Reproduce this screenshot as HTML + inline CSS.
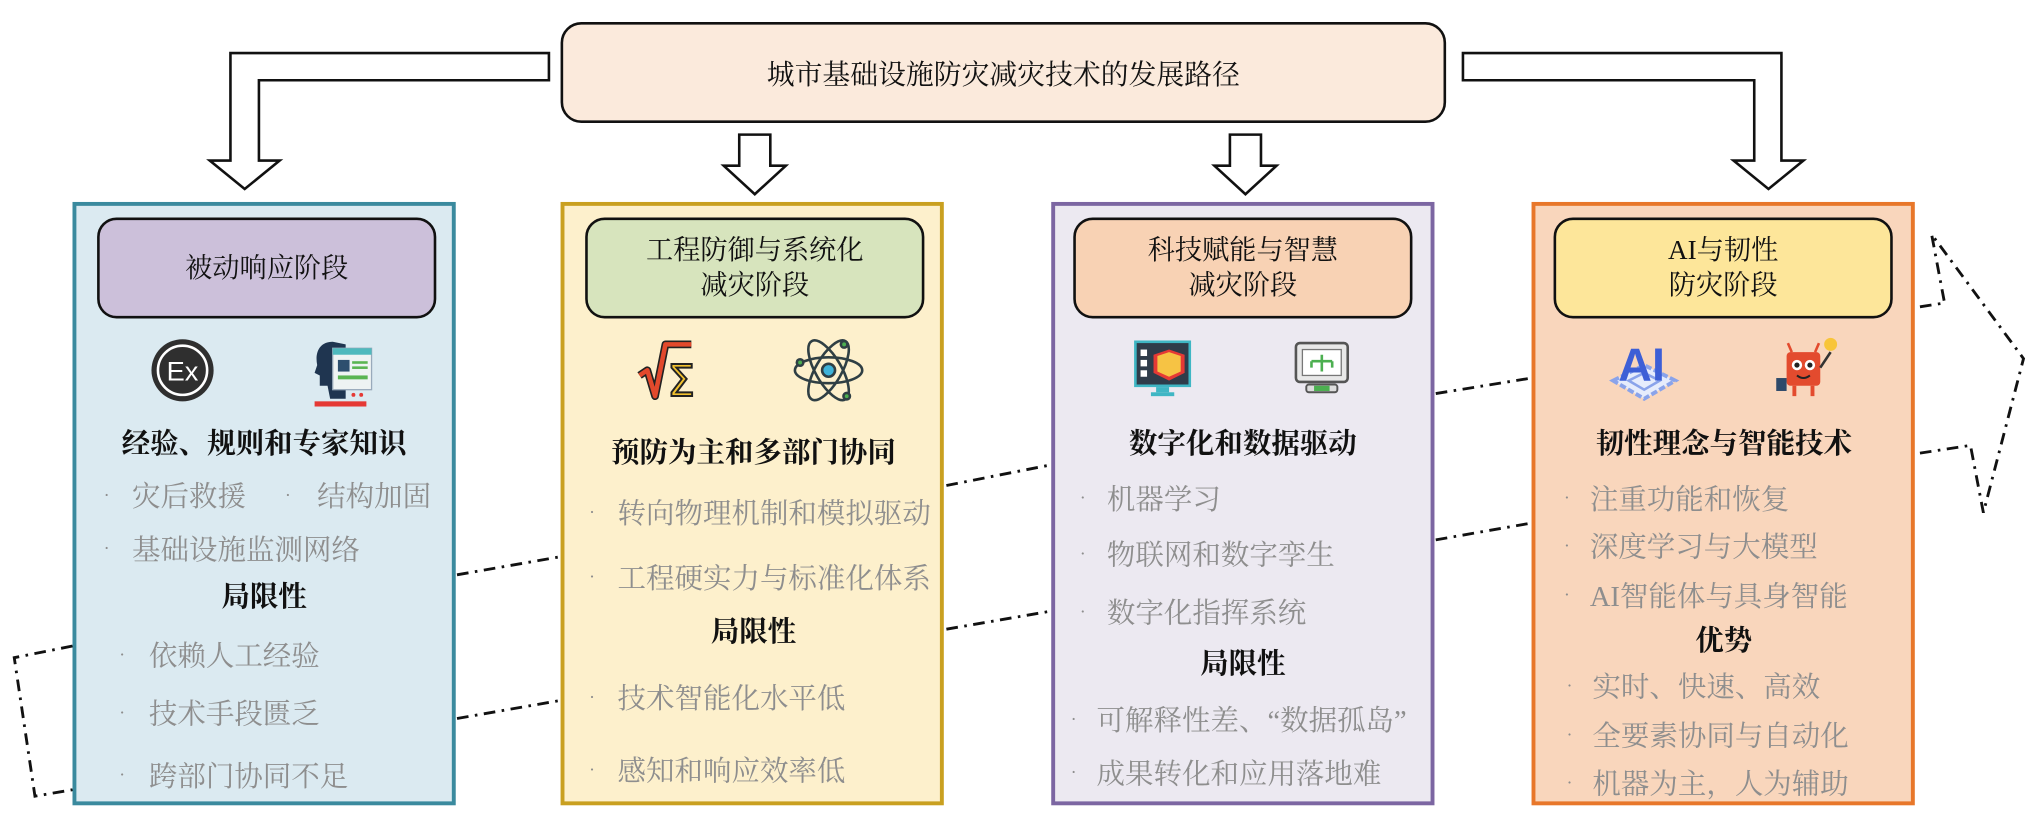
<!DOCTYPE html>
<html><head><meta charset="utf-8">
<style>
html,body{margin:0;padding:0;background:#fff;}
#wrap{width:2030px;height:829px;overflow:hidden;position:relative;background:#fff;}
#c{position:absolute;left:0;top:0;width:1568px;height:640px;transform:scale(1.29464);transform-origin:0 0;font-family:"Liberation Serif","Noto Serif CJK SC",serif;}
.a{position:absolute;}
.panel{position:absolute;top:156px;height:466px;width:296px;border:3px solid;box-sizing:border-box;}
.hdr{position:absolute;top:168px;height:78px;width:262px;border:2px solid #111;border-radius:15px;box-sizing:border-box;display:flex;align-items:center;justify-content:center;text-align:center;font-size:21px;line-height:27px;color:#111;}
.t{position:absolute;height:30px;line-height:30px;font-size:22px;white-space:nowrap;}
.k{color:#111;text-align:center;font-weight:bold;}
.g{color:#8e8e8e;}
.b{position:absolute;height:30px;line-height:30px;font-size:14px;color:#8e8e8e;}
</style></head><body>
<div id="wrap"><div id="c">

<div class="a" style="left:433px;top:17px;width:684px;height:78px;border:2px solid #111;border-radius:16px;background:#fbeadc;box-sizing:border-box;display:flex;align-items:center;justify-content:center;font-size:21.5px;color:#111;">城市基础设施防灾减灾技术的发展路径</div>

<div class="panel" style="left:56px;border-color:#3a8a9e;background:#dbeaf1;"></div>
<div class="panel" style="left:433px;border-color:#c9a020;background:#fdf0cc;"></div>
<div class="panel" style="left:812px;border-color:#7c66a2;background:#ece9f1;"></div>
<div class="panel" style="left:1183px;border-color:#e8772a;background:#f9d6bc;"></div>

<div class="hdr" style="left:75px;background:#ccc0da;">被动响应阶段</div>
<div class="hdr" style="left:452px;background:#d7e4bd;">工程防御与系统化<br>减灾阶段</div>
<div class="hdr" style="left:829px;background:#f8d2b4;">科技赋能与智慧<br>减灾阶段</div>
<div class="hdr" style="left:1200px;background:#fde69a;">AI与韧性<br>防灾阶段</div>

<div class="t k" style="left:56px;width:296px;top:328px;">经验、规则和专家知识</div>
<div class="b" style="left:80px;top:369px;">·</div><div class="t g" style="left:102px;top:369px;">灾后救援</div>
<div class="b" style="left:220px;top:369px;">·</div><div class="t g" style="left:245px;top:369px;">结构加固</div>
<div class="b" style="left:80px;top:410px;">·</div><div class="t g" style="left:102px;top:410px;">基础设施监测网络</div>
<div class="t k" style="left:56px;width:296px;top:446px;">局限性</div>
<div class="b" style="left:92px;top:492px;">·</div><div class="t g" style="left:115px;top:492px;">依赖人工经验</div>
<div class="b" style="left:92px;top:537px;">·</div><div class="t g" style="left:115px;top:537px;">技术手段匮乏</div>
<div class="b" style="left:92px;top:585px;">·</div><div class="t g" style="left:115px;top:585px;">跨部门协同不足</div>

<div class="t k" style="left:433px;width:298px;top:335px;">预防为主和多部门协同</div>
<div class="b" style="left:455px;top:382px;">·</div><div class="t g" style="left:477px;top:382px;">转向物理机制和模拟驱动</div>
<div class="b" style="left:455px;top:432px;">·</div><div class="t g" style="left:477px;top:432px;">工程硬实力与标准化体系</div>
<div class="t k" style="left:433px;width:298px;top:473px;">局限性</div>
<div class="b" style="left:455px;top:525px;">·</div><div class="t g" style="left:477px;top:525px;">技术智能化水平低</div>
<div class="b" style="left:455px;top:581px;">·</div><div class="t g" style="left:477px;top:581px;">感知和响应效率低</div>

<div class="t k" style="left:812px;width:296px;top:328px;">数字化和数据驱动</div>
<div class="b" style="left:834px;top:371px;">·</div><div class="t g" style="left:855px;top:371px;">机器学习</div>
<div class="b" style="left:834px;top:414px;">·</div><div class="t g" style="left:855px;top:414px;">物联网和数字孪生</div>
<div class="b" style="left:834px;top:459px;">·</div><div class="t g" style="left:855px;top:459px;">数字化指挥系统</div>
<div class="t k" style="left:812px;width:296px;top:498px;">局限性</div>
<div class="b" style="left:827px;top:542px;">·</div><div class="t g" style="left:847px;top:542px;">可解释性差、“数据孤岛”</div>
<div class="b" style="left:827px;top:583px;">·</div><div class="t g" style="left:847px;top:583px;">成果转化和应用落地难</div>

<div class="t k" style="left:1183px;width:297px;top:328px;">韧性理念与智能技术</div>
<div class="b" style="left:1208px;top:371px;">·</div><div class="t g" style="left:1228px;top:371px;">注重功能和恢复</div>
<div class="b" style="left:1208px;top:408px;">·</div><div class="t g" style="left:1228px;top:408px;">深度学习与大模型</div>
<div class="b" style="left:1208px;top:446px;">·</div><div class="t g" style="left:1228px;top:446px;">AI智能体与具身智能</div>
<div class="t k" style="left:1183px;width:297px;top:480px;">优势</div>
<div class="b" style="left:1210px;top:516px;">·</div><div class="t g" style="left:1230px;top:516px;">实时、快速、高效</div>
<div class="b" style="left:1210px;top:554px;">·</div><div class="t g" style="left:1230px;top:554px;">全要素协同与自动化</div>
<div class="b" style="left:1210px;top:591px;">·</div><div class="t g" style="left:1230px;top:591px;">机器为主，人为辅助</div>

<svg class="a" style="left:0;top:0" width="1568" height="640" viewBox="0 0 1568 640">
<g fill="#fff" stroke="#111" stroke-width="2" stroke-linejoin="miter">
<path d="M424,41 L178,41 L178,124 L162,124 L189,146 L216,124 L200,124 L200,62 L424,62 Z"/>
<path d="M1130,41 L1376,41 L1376,124 L1393,124 L1366,146 L1339,124 L1355,124 L1355,62 L1130,62 Z"/>
<path d="M571,104 L595,104 L595,128 L607,128 L583,150 L559,128 L571,128 Z"/>
<path d="M950,104 L974,104 L974,128 L986,128 L962,150 L938,128 L950,128 Z"/>
</g>
<g fill="none" stroke="#111" stroke-width="2.2" stroke-dasharray="9 5 2 5">
<path d="M353,444 L433,430"/>
<path d="M353,555 L433,541"/>
<path d="M731,375 L812,359"/>
<path d="M731,486 L812,472"/>
<path d="M1109,304 L1183,292"/>
<path d="M1109,417 L1183,404"/>
<path d="M56,499 L11,508 L27,615 L56,610"/>
<path d="M1483,237 L1502,234 L1492,181 L1563,277 L1532,396 L1522,344 L1483,350"/>
</g>
<circle cx="141" cy="286" r="24" fill="#2f2f2f"/>
<circle cx="141" cy="286" r="19" fill="none" stroke="#fff" stroke-width="2"/>
<text x="141" y="294" text-anchor="middle" font-family="Liberation Sans" font-size="21" fill="#fff">Ex</text>
<g transform="translate(243,262)">
<path d="M14,2 C4,2 0,10 2,20 L0,26 L4,28 L4,36 L10,36 L12,46 L24,46 L24,4 Z" fill="#1f3550"/>
<rect x="14" y="7" width="30" height="32" fill="#eef3f3" stroke="#9ab" stroke-width="1"/>
<rect x="14" y="7" width="30" height="5" fill="#4fb9bd"/>
<rect x="18" y="16" width="9" height="9" fill="#2d4f6e"/>
<rect x="29" y="17" width="12" height="2" fill="#5ab552"/>
<rect x="29" y="21" width="12" height="2" fill="#5ab552"/>
<rect x="18" y="28" width="23" height="3" fill="#5ab552"/>
<rect x="0" y="48" width="40" height="4" fill="#e53935"/>
<circle cx="30" cy="43" r="1.5" fill="#e53935"/><circle cx="36" cy="43" r="1.5" fill="#e53935"/>
</g>
<g transform="translate(492,262)">
<path d="M2,28 L8,24 L14,44 L22,4 L42,4" fill="none" stroke="#222" stroke-width="6" stroke-linejoin="round"/>
<path d="M2,28 L8,24 L14,44 L22,4 L42,4" fill="none" stroke="#e2492c" stroke-width="3.5" stroke-linejoin="round"/>
<text x="34" y="44" text-anchor="middle" font-family="DejaVu Sans" font-size="34" fill="#f3c22f" stroke="#222" stroke-width="1.5">Σ</text>
</g>
<g transform="translate(640,286)" fill="none" stroke="#2f3f44" stroke-width="2">
<ellipse rx="26" ry="10"/>
<ellipse rx="26" ry="10" transform="rotate(60)"/>
<ellipse rx="26" ry="10" transform="rotate(-60)"/>
<circle r="5" fill="#3fb3d9"/>
<circle cx="-22" cy="-6" r="2.5" fill="#4caf50"/><circle cx="14" cy="20" r="2.5" fill="#4caf50"/><circle cx="12" cy="-20" r="2.5" fill="#4caf50"/>
</g>
<g transform="translate(877,264)">
<rect x="0" y="0" width="42" height="34" fill="#2f3c4a" stroke="#3fb6c4" stroke-width="2"/>
<rect x="4" y="6" width="5" height="5" fill="#fff"/><rect x="4" y="14" width="5" height="5" fill="#fff"/><rect x="4" y="22" width="5" height="5" fill="#fff"/>
<path d="M14,10 L26,6 L38,10 L38,24 L26,30 L14,24 Z" fill="#e53935"/>
<path d="M17,11 L26,8 L35,11 L35,23 L26,27 L17,23 Z" fill="#f6c344"/>
<rect x="16" y="35" width="10" height="4" fill="#3fb6c4"/><rect x="12" y="39" width="18" height="3" fill="#3fb6c4"/>
</g>
<g transform="translate(1001,265)">
<rect x="0" y="0" width="40" height="30" rx="3" fill="#e8e8e8" stroke="#555" stroke-width="2"/>
<rect x="5" y="5" width="30" height="20" fill="#fff" stroke="#777"/>
<path d="M20,9 L20,22 M12,14 L28,14 M12,14 L12,19 M28,14 L28,19" stroke="#4caf50" stroke-width="2" fill="none"/>
<rect x="8" y="32" width="24" height="6" rx="2" fill="#ddd" stroke="#555" stroke-width="1.5"/>
<rect x="14" y="33" width="12" height="4" fill="#4caf50"/>
</g>
<g transform="translate(1246,258)">
<path d="M0,36 L24,24 L48,36 L24,50 Z" fill="#e6ecfc" stroke="#8aa3ea" stroke-width="3" stroke-dasharray="5 2"/>
<path d="M12,36 L24,30 L36,36 L24,43 Z" fill="none" stroke="#8aa3ea" stroke-width="2"/>
<text x="22" y="36" text-anchor="middle" font-family="Liberation Sans" font-weight="bold" font-size="36" fill="#3d5fd6">AI</text>
</g>
<g transform="translate(1370,260)">
<rect x="10" y="12" width="26" height="26" rx="3" fill="#e34b2e"/>
<circle cx="18" cy="22" r="4" fill="#fff"/><circle cx="28" cy="22" r="4" fill="#fff"/>
<circle cx="18" cy="22" r="2" fill="#222"/><circle cx="28" cy="22" r="2" fill="#222"/>
<path d="M18,30 Q23,34 28,30" stroke="#222" stroke-width="1.5" fill="none"/>
<path d="M14,12 L11,5 M32,12 L35,5" stroke="#e34b2e" stroke-width="2"/>
<circle cx="44" cy="6" r="5" fill="#f8c53a"/>
<path d="M36,24 L44,12" stroke="#333" stroke-width="2"/>
<rect x="2" y="32" width="8" height="10" fill="#2e4a6a"/>
<path d="M16,38 L16,46 M30,38 L30,46" stroke="#e34b2e" stroke-width="3"/>
</g>
</svg>

</div></div>
</body></html>
